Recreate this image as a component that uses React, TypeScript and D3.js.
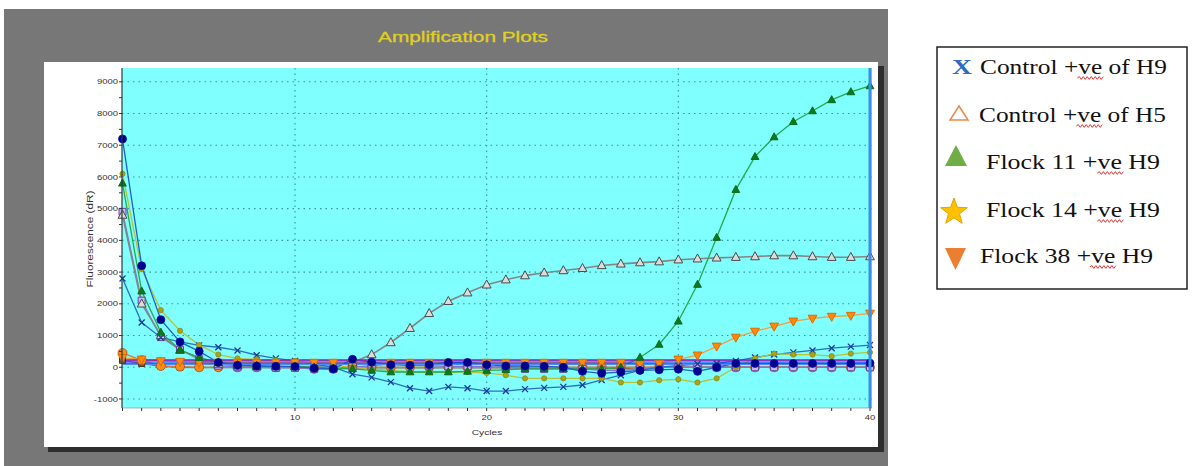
import React from 'react';
import * as d3 from 'd3';

// ── Data ─────────────────────────────────────────────────────────────
const cycles = [1, 2, 3, 4, 5, 6, 7, 8, 9, 10, 11, 12, 13, 14, 15, 16, 17, 18, 19, 20,
  21, 22, 23, 24, 25, 26, 27, 28, 29, 30, 31, 32, 33, 34, 35, 36, 37, 38, 39, 40];

const navyCircles = [7200, 3200, 1500, 800, 500, 150, 60, 40, 30, 20, -30, -50, 250, 160, 80, 60, 80, 150, 150, 80,
  40, 40, 30, 0, -130, -190, -150, -100, -80, -60, -130, 0, 120, 120, 120, 120, 120, 120, 120, 130];
const oliveDots = [6100, 3100, 1800, 1150, 700, 400, 280, 250, 220, 200, 120, 60, 0, -50, -100, -150, -150, -150, -150, -180,
  -250, -350, -350, -350, -350, -350, -480, -480, -410, -380, -480, -350, 0, 280, 430, 400, 400, 350, 430, 470];
const greenTriangles = [5800, 2400, 1100, 550, 300, 150, 80, 50, 30, 20, 0, -30, -50, -100, -150, -150, -150, -150, -130, -100,
  -80, -50, -50, -50, -50, -50, 0, 310, 720, 1450, 2610, 4090, 5600, 6640, 7260, 7740, 8080, 8430, 8680, 8870];
const grayTriangles = [4800, 2000, 1000, 540, 300, 100, 50, 30, 20, 20, 30, 60, 150, 400, 780, 1230, 1700, 2080, 2350, 2600,
  2760, 2890, 2980, 3050, 3120, 3210, 3260, 3300, 3330, 3390, 3420, 3450, 3470, 3490, 3520, 3520, 3490, 3470, 3470, 3490];
const purpleSquares = [4900, 2100, 950, 550, 250, 50, 0, 0, -20, -20, -50, -50, 0, 50, 100, 100, 50, 30, 30, 20,
  0, -50, -50, -50, -50, -100, -100, -50, 0, 0, 0, 0, 0, 0, 0, 0, 0, 0, 0, 0];
const blueCrosses = [2800, 1410, 940, 800, 690, 630, 530, 380, 280, 200, 100, 0, -220, -320, -470, -660, -750, -620, -660, -750,
  -750, -690, -650, -620, -560, -400, -250, -100, 0, 50, 100, 120, 200, 310, 400, 470, 530, 600, 650, 700];
const orangeCircles = [450, 220, 40, 20, 0, 0, 0, 0, 0, 0, -50, -50, 0, 0, 0, 0, 0, 0, 0, 0,
  0, 0, 0, 0, 0, 0, 0, 0, 0, 0, 0, 0, 0, 0, 0, 0, 0, 0, 0, 0];
const brownSquares = [220, 120, 30, 0, -10, -10, -10, -10, -10, -10, -40, -60, -30, -20, -20, -20, -20, -20, -20, -20,
  -20, -30, -30, -30, -30, -40, -40, -20, 0, 0, 0, 0, 0, 0, 0, 0, 0, 0, 0, 0];
const orangeDown = [300, 250, 200, 180, 150, 150, 150, 150, 150, 150, 150, 150, 150, 150, 150, 150, 150, 150, 150, 150,
  150, 150, 150, 150, 150, 150, 150, 100, 120, 250, 380, 660, 940, 1130, 1290, 1450, 1540, 1600, 1630, 1700];

const thresholds = [230, 200, 130, 90];
const thresholdColors = ['#d0103a', '#8a1ad0', '#1030ff', '#4d8cff'];

const yTicks = [-1000, 0, 1000, 2000, 3000, 4000, 5000, 6000, 7000, 8000, 9000];
const yMinorTicks = d3.range(-1000, 9001, 500);
const xTicks = [10, 20, 30, 40];

const legendLabels = ['Control +ve of H9', 'Control +ve of H5', 'Flock 11 +ve H9', 'Flock 14 +ve H9', 'Flock 38 +ve H9'];

// ── Layout ──────────────────────────────────────────────────────────
const W = 1200;
const H = 466;
const plot = { left: 122, right: 872, top: 68, bottom: 408 };

type Marker = 'circle' | 'triUp' | 'triDown' | 'square' | 'cross';
interface Series {
  values: number[];
  line: string;
  marker: Marker;
  fill: string;
  stroke: string;
  size: number;
  width?: number;
}

const series: Series[] = [
  { values: brownSquares, line: '#a0603a', marker: 'square', fill: '#7a5a3a', stroke: '#4a3018', size: 6 },
  { values: orangeCircles, line: '#d07a40', marker: 'circle', fill: '#ff8c10', stroke: '#a0502a', size: 4.5 },
  { values: purpleSquares, line: '#7a78e0', marker: 'square', fill: '#c8b8f0', stroke: '#6a3ea8', size: 7 },
  { values: grayTriangles, line: '#858585', marker: 'triUp', fill: '#dcdcdc', stroke: '#4a4a4a', size: 8, width: 1.6 },
  { values: blueCrosses, line: '#2a70c0', marker: 'cross', fill: 'none', stroke: '#1a3a9a', size: 3 },
  { values: oliveDots, line: '#b8c23a', marker: 'circle', fill: '#a8a41e', stroke: '#8a8a10', size: 2.6 },
  { values: orangeDown, line: '#f0a040', marker: 'triDown', fill: '#ff8a0a', stroke: '#e06a00', size: 8 },
  { values: greenTriangles, line: '#22ac4a', marker: 'triUp', fill: '#0a7a1e', stroke: '#0a6a18', size: 7 },
  { values: navyCircles, line: '#1e64c8', marker: 'circle', fill: '#000088', stroke: '#0010b0', size: 4 },
];

const x = d3.scaleLinear().domain([1, 40]).range([122.5, 870]);
const y = d3.scaleLinear().domain([0, 9000]).range([367.25, 81.8]);

const markerPath = (m: Marker, s: number) => {
  if (m === 'triUp') return `M0,${-s * 0.6}L${s * 0.55},${s * 0.4}L${-s * 0.55},${s * 0.4}Z`;
  if (m === 'triDown') return `M0,${s * 0.6}L${s * 0.55},${-s * 0.4}L${-s * 0.55},${-s * 0.4}Z`;
  if (m === 'square') return `M${-s / 2},${-s / 2}h${s}v${s}h${-s}Z`;
  if (m === 'cross') return `M${-s},${-s}L${s},${s}M${s},${-s}L${-s},${s}`;
  return '';
};

const squiggle = (x0: number, x1: number, yy: number) => {
  let d = `M${x0},${yy}`;
  let up = true;
  for (let px = x0 + 2; px <= x1; px += 2) {
    d += `L${px},${yy + (up ? -1.4 : 1.4)}`;
    up = !up;
  }
  return d;
};

// legend positioning
const legendBaselines = [74, 122, 169, 217, 263];
const legendTextX = [980, 979, 986, 986, 980];
const legendTextW = [187, 187, 174, 174, 173];
const squiggleSpan = [[0.52, 0.66], [0.52, 0.66], [0.64, 0.79], [0.64, 0.79], [0.635, 0.79]];

const starPath = (cx: number, cy: number, ro: number, ri: number) => {
  const pts: string[] = [];
  for (let i = 0; i < 10; i++) {
    const a = -Math.PI / 2 + (i * Math.PI) / 5;
    const r = i % 2 === 0 ? ro : ri;
    pts.push(`${cx + r * Math.cos(a)},${cy + r * Math.sin(a)}`);
  }
  return `M${pts.join('L')}Z`;
};

const sans = '"Liberation Sans", Arial, sans-serif';
const serif = '"Liberation Serif", "Times New Roman", serif';

export default function App() {
  const line = (vals: number[]) =>
    d3.line<number>().x((_, i) => x(cycles[i])).y(v => y(v))(vals) || '';

  return (
    <div style={{ position: 'absolute', left: 0, top: 0 }}>
      <svg width={W} height={H} style={{ display: 'block', background: '#fff' }}>
        {/* outer gray panel */}
        <rect x={4} y={9} width={884} height={H - 9} fill="#777777" />
        {/* white chart panel with shadow */}
        <rect x={48} y={66} width={836} height={386} fill="#2e2e2e" />
        <rect x={44} y={62} width={834} height={385} fill="#ffffff" />

        <text x={463} y={42} textAnchor="middle" fontFamily={sans} fontSize={14}
          fill="#e0cf22" stroke="#e0cf22" strokeWidth={0.3}
          textLength={170} lengthAdjust="spacingAndGlyphs">Amplification Plots</text>

        {/* plot area */}
        <rect x={plot.left} y={plot.top} width={plot.right - plot.left} height={plot.bottom - plot.top} fill="#80ffff" />

        {/* grid */}
        <g stroke="#3a94a2" strokeWidth={1.1} strokeDasharray="1.5,4">
          {yTicks.map(t => (
            <line key={`gy${t}`} x1={plot.left} x2={plot.right} y1={y(t)} y2={y(t)} />
          ))}
          {xTicks.filter(t => t < 40).map(t => (
            <line key={`gx${t}`} x1={x(t)} x2={x(t)} y1={plot.top} y2={plot.bottom} />
          ))}
        </g>

        {/* series lines */}
        {series.map((s, i) => (
          <path key={`l${i}`} d={line(s.values)} fill="none" stroke={s.line} strokeWidth={s.width ?? 1.3} />
        ))}

        {/* threshold lines */}
        {thresholds.map((t, i) => (
          <line key={`th${i}`} x1={plot.left} x2={x(40)} y1={y(t)} y2={y(t)}
            stroke={thresholdColors[i]} strokeWidth={1.3} />
        ))}

        {/* markers */}
        {series.map((s, i) => (
          <g key={`m${i}`}>
            {s.values.map((v, j) =>
              s.marker === 'circle' ? (
                <circle key={j} cx={x(cycles[j])} cy={y(v)} r={s.size} fill={s.fill} stroke={s.stroke} strokeWidth={0.8} />
              ) : (
                <path key={j} transform={`translate(${x(cycles[j])},${y(v)})`} d={markerPath(s.marker, s.size)}
                  fill={s.fill} stroke={s.stroke} strokeWidth={s.marker === 'cross' ? 1.3 : 1} />
              )
            )}
          </g>
        ))}

        {/* cycle cursor */}
        <line x1={x(40)} x2={x(40)} y1={plot.top} y2={plot.bottom} stroke="#3a8ee6" strokeWidth={3} />

        {/* axes */}
        <line x1={plot.left} x2={plot.left} y1={plot.top} y2={plot.bottom} stroke="#2a3a3a" strokeWidth={1.2} />
        <line x1={plot.left} x2={plot.right} y1={plot.bottom} y2={plot.bottom} stroke="#6a8a8a" strokeWidth={0.6} />
        <g stroke="#333" strokeWidth={1}>
          {yMinorTicks.map(t => (
            <line key={`yt${t}`} x1={plot.left - 3} x2={plot.left} y1={y(t)} y2={y(t)} />
          ))}
          {cycles.map(c => (
            <line key={`xt${c}`} x1={x(c)} x2={x(c)} y1={plot.bottom} y2={plot.bottom + 3} />
          ))}
        </g>
        <g fontFamily={sans} fontSize={7.4} fill="#333">
          {yTicks.map(t => (
            <text key={`yl${t}`} transform={`translate(${plot.left - 4},${y(t) + 2.6}) scale(1.28,1)`} textAnchor="end">
              {String(t)}
            </text>
          ))}
          {xTicks.map(t => (
            <text key={`xl${t}`} transform={`translate(${x(t)},${420}) scale(1.28,1)`} textAnchor="middle">
              {String(t)}
            </text>
          ))}
          <text transform={`translate(487,435) scale(1.28,1)`} textAnchor="middle" fontSize={8}>Cycles</text>
          <text transform={`translate(93,239) rotate(-90)`} textAnchor="middle" fontSize={9.5}
            textLength={97} lengthAdjust="spacingAndGlyphs">Fluorescence (dR)</text>
        </g>

        {/* legend */}
        <rect x={937} y={47} width={250} height={242} fill="#fff" stroke="#222" strokeWidth={1.5} />
        <text x={952} y={74} fontFamily={serif} fontWeight="bold" fontSize={21} fill="#2e6bc6"
          textLength={20} lengthAdjust="spacingAndGlyphs">X</text>
        <path d="M959,106L968,120L950,120Z" fill="none" stroke="#e8894a" strokeWidth={1.5} />
        <path d="M956,145L967,166L945,166Z" fill="#70ad47" />
        <path d={starPath(954, 212, 14, 5.8)} fill="#ffc000" stroke="#e8a200" strokeWidth={1} />
        <path d="M945,248L966,248L955.5,270Z" fill="#ed7d31" />
        {legendLabels.map((lab, i) => (
          <g key={lab}>
            <text x={legendTextX[i]} y={legendBaselines[i]} fontFamily={serif} fontSize={21} fill="#111"
              textLength={legendTextW[i]} lengthAdjust="spacingAndGlyphs">{lab}</text>
            <path d={squiggle(legendTextX[i] + legendTextW[i] * squiggleSpan[i][0],
              legendTextX[i] + legendTextW[i] * squiggleSpan[i][1], legendBaselines[i] + 4)}
              fill="none" stroke="#e02020" strokeWidth={0.9} />
          </g>
        ))}
      </svg>
    </div>
  );
}
